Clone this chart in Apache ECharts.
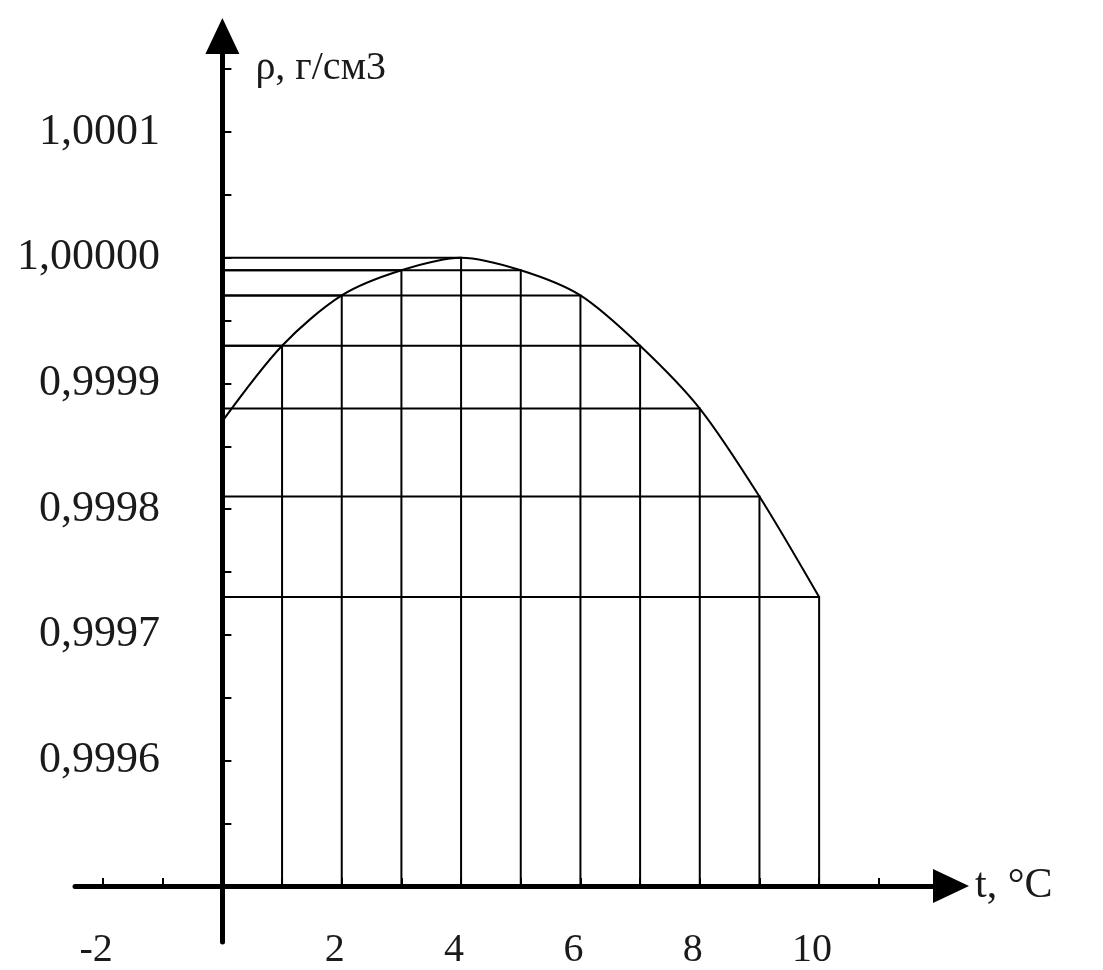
<!DOCTYPE html>
<html>
<head>
<meta charset="utf-8">
<title>Плотность воды</title>
<script src="https://cdn.jsdelivr.net/npm/echarts@6/dist/echarts.min.js"></script>
<style>
  html, body { margin: 0; padding: 0; background: #fff; }
  #main { width: 1103px; height: 970px; }
</style>
</head>
<body>
<div id="main"></div>
<script>
// температура, °C
const temps = [0, 1, 2, 3, 4, 5, 6, 7, 8, 9, 10];
// плотность воды, г/см3
const density = [0.99987, 0.99993, 0.99997, 0.99999, 1.00000, 0.99999, 0.99997, 0.99993, 0.99988, 0.99981, 0.99973];

// оси
const xTickValues = [-2, -1, 0, 1, 2, 3, 4, 5, 6, 7, 8, 9, 10, 11];
const xLabelValues = [-2, 2, 4, 6, 8, 10];
const yTickValues = [0.99955, 0.9996, 0.99965, 0.9997, 0.99975, 0.9998, 0.99985, 0.9999, 0.99995, 1.0, 1.00005, 1.0001, 1.00015];
const yLabelValues = [0.9996, 0.9997, 0.9998, 0.9999, 1.0, 1.0001];
const yLabelTexts = ['0,9996', '0,9997', '0,9998', '0,9999', '1,00000', '1,0001'];
const baseLevel = 0.9995; // уровень оси t

let chartDom = document.getElementById('main');
let myChart = echarts.init(chartDom);

// линии от оси к точкам кривой
let dropLines = [];
for (let i = 1; i < temps.length; i++) {
  dropLines.push({
    coords: [[0, density[i]], [temps[i], density[i]], [temps[i], baseLevel]]
  });
}

const serif = 'Liberation Serif';
const textColor = '#1a1a1a';

let option = {
  animation: false,
  backgroundColor: '#fff',
  grid: {
    left: 75,
    right: 152,
    top: 36,
    bottom: 28,
    outerBoundsMode: 'none'
  },
  xAxis: {
    type: 'value',
    min: -2.47,
    max: 12.21,
    position: 'bottom',
    offset: -56,
    name: 't, °C',
    nameLocation: 'end',
    nameGap: 24,
    nameTextStyle: { fontFamily: serif, fontSize: 42, color: textColor, verticalAlign: 'middle' },
    axisLine: {
      onZero: false,
      symbol: ['none', 'triangle'],
      symbolSize: [34, 36],
      lineStyle: { color: '#000', width: 5 }
    },
    axisTick: {
      show: true,
      inside: true,
      length: 8,
      customValues: xTickValues,
      lineStyle: { color: '#000', width: 2 }
    },
    axisLabel: {
      customValues: xLabelValues,
      margin: 44,
      fontFamily: serif,
      fontSize: 40,
      color: textColor,
      padding: [0, 14, 0, 0]
    },
    splitLine: { show: false }
  },
  yAxis: {
    type: 'value',
    min: 0.9994556,
    max: 1.0001764,
    name: 'ρ, г/см3',
    nameLocation: 'end',
    nameGap: -32,
    nameTextStyle: {
      fontFamily: serif, fontSize: 40, color: textColor,
      align: 'left', verticalAlign: 'middle', padding: [0, 0, 0, 33]
    },
    axisLine: {
      onZero: true,
      symbol: ['none', 'triangle'],
      symbolSize: [34, 36],
      lineStyle: { color: '#000', width: 5 }
    },
    axisTick: {
      show: true,
      inside: true,
      length: 9,
      customValues: yTickValues,
      lineStyle: { color: '#000', width: 2 }
    },
    axisLabel: {
      customValues: yLabelValues,
      // подписи отсчитываются от левого края сетки
      margin: -85,
      fontFamily: serif,
      fontSize: 44,
      color: textColor,
      formatter: function (v) {
        for (let i = 0; i < yLabelValues.length; i++) {
          if (Math.abs(v - yLabelValues[i]) < 1e-8) return yLabelTexts[i];
        }
        return '';
      }
    },
    splitLine: { show: false }
  },
  series: [
    {
      type: 'lines',
      coordinateSystem: 'cartesian2d',
      polyline: true,
      silent: true,
      z: 2,
      lineStyle: { color: '#000', width: 2, opacity: 1 },
      data: dropLines
    },
    {
      name: 'ρ',
      type: 'line',
      smooth: 0.3,
      showSymbol: false,
      silent: true,
      z: 3,
      lineStyle: { color: '#000', width: 2 },
      data: temps.map((t, i) => [t, density[i]])
    }
  ]
};
myChart.setOption(option);
</script>
</body>
</html>
